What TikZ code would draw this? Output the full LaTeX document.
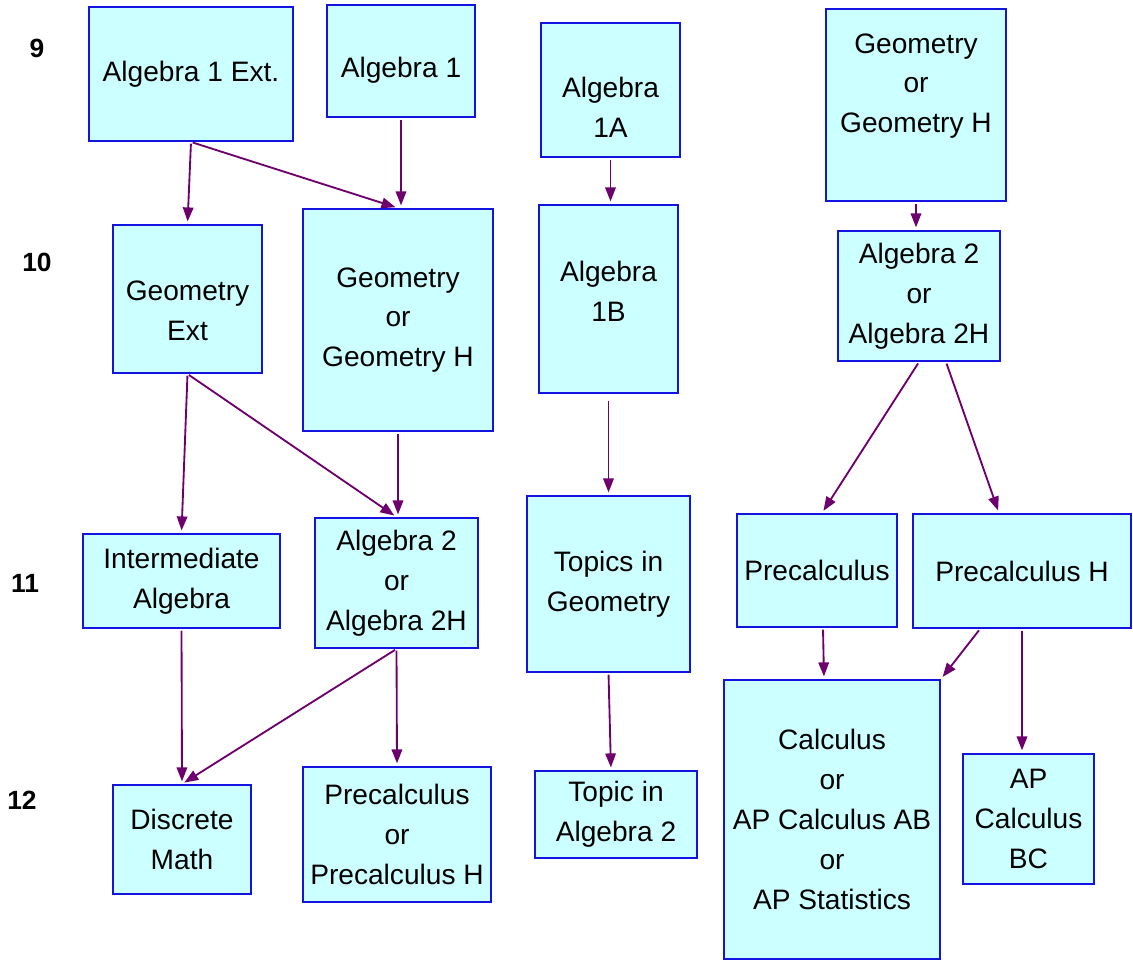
\documentclass[tikz,border=0pt]{standalone}
\usepackage{fontspec}
\setmainfont{Liberation Sans}
\usepackage{tikz}
\usetikzlibrary{arrows.meta}

\definecolor{boxfill}{RGB}{204,255,255}
\definecolor{boxline}{RGB}{20,20,225}
\definecolor{arrowc}{RGB}{110,0,110}

\begin{document}
\begin{tikzpicture}[
  >={Triangle[length=2.8mm, width=2.1mm]},
  course/.style={draw=boxline, fill=boxfill, line width=1.1pt, align=center,
    inner sep=2pt, font=\fontsize{16}{22.7}\selectfont},
  coursetxt/.style={align=center, inner sep=0pt, font=\fontsize{16}{22.7}\selectfont},
  grade/.style={font=\fontsize{15}{18}\selectfont\bfseries},
  link/.style={->, draw=arrowc, line width=1.05pt, shorten >=1.5pt, shorten <=1pt}]

  \useasboundingbox (0,0) rectangle (22.66,-19.24);

  % grades
  \node[grade] (g9)  at (0.74,-0.96)  {9};
  \node[grade] (g10) at (0.74,-5.24)  {10};
  \node[grade] (g11) at (0.50,-11.66) {11};
  \node[grade] (g12) at (0.44,-16.00) {12};

  % 9th grade
  \node[course, minimum width=4.08cm, minimum height=2.68cm] (a1ext) at (3.82,-1.48) {Algebra 1 Ext.};
  \node[course, minimum width=2.96cm, minimum height=2.24cm,
    label={[coursetxt, yshift=-0.18cm]center:Algebra 1}] (a1) at (8.02,-1.22) {};
  \node[course, minimum width=2.78cm, minimum height=2.68cm,
    label={[coursetxt, yshift=-0.34cm]center:{Algebra\\1A}}] (a1a) at (12.21,-1.80) {};
  \node[course, minimum width=3.60cm, minimum height=3.84cm,
    label={[coursetxt, yshift=0.38cm]center:{Geometry\\or\\Geometry H}}] (geotop) at (18.32,-2.10) {};

  % 10th grade
  \node[course, minimum width=2.98cm, minimum height=2.96cm,
    label={[coursetxt, yshift=-0.24cm]center:{Geometry\\Ext}}] (geoext) at (3.75,-5.98) {};
  \node[course, minimum width=3.80cm, minimum height=4.44cm] (geoh) at (7.96,-6.40) {Geometry\\or\\Geometry H};
  \node[course, minimum width=2.78cm, minimum height=3.76cm,
    label={[coursetxt, yshift=0.16cm]center:{Algebra\\1B}}] (a1b) at (12.17,-5.98) {};
  \node[course, minimum width=3.24cm, minimum height=2.60cm] (a2r) at (18.38,-5.92) {Algebra 2\\or\\Algebra 2H};

  % 11th grade
  \node[course, minimum width=3.94cm, minimum height=1.88cm] (intalg) at (3.63,-11.62) {Intermediate\\Algebra};
  \node[course, minimum width=3.26cm, minimum height=2.60cm] (a2l) at (7.93,-11.66) {Algebra 2\\or\\Algebra 2H};
  \node[course, minimum width=3.26cm, minimum height=3.52cm] (topgeo) at (12.17,-11.68) {Topics in\\Geometry};
  \node[course, minimum width=3.20cm, minimum height=2.26cm] (precalc) at (16.34,-11.41) {Precalculus};
  \node[course, minimum width=4.36cm, minimum height=2.28cm] (prech) at (20.44,-11.42) {Precalculus H};

  % 12th grade
  \node[course, minimum width=2.76cm, minimum height=2.18cm] (discrete) at (3.64,-16.79) {Discrete\\Math};
  \node[course, minimum width=3.76cm, minimum height=2.70cm] (preor) at (7.94,-16.69) {Precalculus\\or\\Precalculus H};
  \node[course, minimum width=3.24cm, minimum height=1.74cm] (topalg) at (12.32,-16.29) {Topic in\\Algebra 2};
  \node[course, minimum width=4.32cm, minimum height=5.58cm] (calc) at (16.64,-16.39) {Calculus\\or\\AP Calculus AB\\or\\AP Statistics};
  \node[course, minimum width=2.62cm, minimum height=2.60cm] (apbc) at (20.57,-16.38) {AP\\Calculus\\BC};

  % paths
  \draw[link] (a1ext.south) -- (geoext.north);
  \draw[link] (a1ext.south) -- (geoh.north);
  \draw[link] (a1.south) -- (a1.south |- geoh.north);
  \draw[link] (a1a.south) -- (a1a.south |- a1b.north);
  \draw[link] (geotop.south) -- (geotop.south |- a2r.north);
  \draw[link] (geoext.south) -- (intalg.north);
  \draw[link] (geoext.south) -- (a2l.north);
  \draw[link] (geoh.south) -- (geoh.south |- a2l.north);
  \draw[link] ([yshift=-0.1cm]a1b.south) -- (a1b.south |- topgeo.north);
  \draw[link] (a2r.south) -- ([xshift=0.1cm]precalc.north);
  \draw[link] ([xshift=0.54cm]a2r.south) -- ([xshift=-0.46cm]prech.north);
  \draw[link] (intalg.south) -- (discrete.north);
  \draw[link] (a2l.south) -- (discrete.north);
  \draw[link] (a2l.south) -- (preor.north);
  \draw[link] (topgeo.south) -- ([xshift=-0.1cm]topalg.north);
  \draw[link] ([xshift=0.12cm]precalc.south) -- ([xshift=-0.16cm]calc.north);
  \draw[link] ([xshift=-0.84cm]prech.south) -- (calc.north east);
  \draw[link] (prech.south) -- (prech.south |- apbc.north);
\end{tikzpicture}
\end{document}
